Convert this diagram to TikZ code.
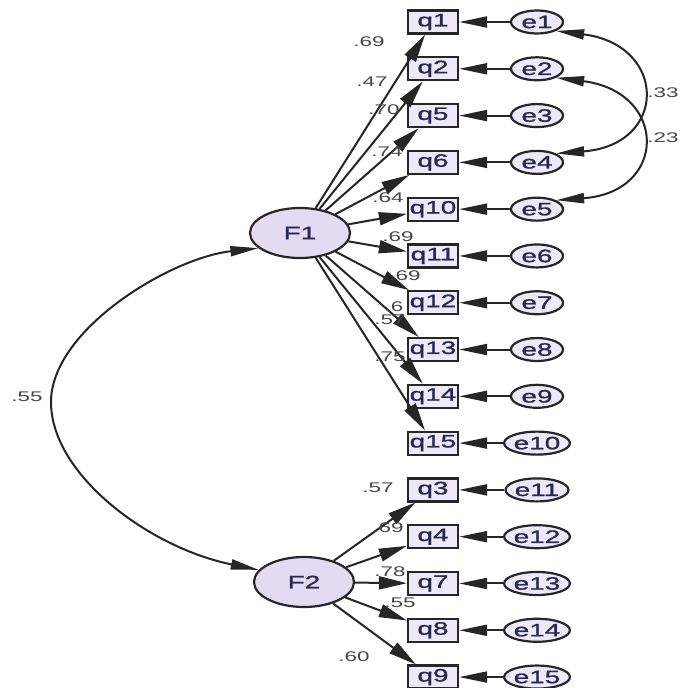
\documentclass[tikz,border=0pt]{standalone}
\usepackage{fontspec}
\setmainfont[FakeStretch=1.6]{Liberation Sans}
\newfontfamily\nodefont[FakeStretch=1.55,FakeBold=1.2]{Liberation Sans}
\usetikzlibrary{arrows.meta,shapes.geometric}
\definecolor{txt}{RGB}{40,40,80}
\definecolor{lblc}{RGB}{70,70,70}
\definecolor{boxfill}{RGB}{238,233,248}
\definecolor{latfill}{RGB}{226,219,241}
\begin{document}
\begin{tikzpicture}[x=1pt,y=-1pt,
  obs/.style={draw=black!85, line width=2.2pt, fill=boxfill, minimum width=50pt, minimum height=23pt, inner sep=0pt, text=txt, font=\nodefont\fontsize{18}{18}\selectfont},
  err/.style={ellipse, draw=black!85, line width=2.2pt, fill=boxfill, minimum width=52pt, minimum height=23pt, inner sep=0pt, text=txt, font=\nodefont\fontsize{18}{18}\selectfont},
  lat/.style={ellipse, draw=black!85, line width=2.2pt, fill=latfill, minimum width=100pt, minimum height=50pt, inner sep=0pt, text=txt, font=\nodefont\fontsize{18}{18}\selectfont},
  load/.style={-{Triangle[length=28pt,width=13pt]}, line width=2pt, draw=black!85},
  eload/.style={-{Triangle[length=28pt,width=11pt]}, line width=2pt, draw=black!85},
  cov/.style={{Triangle[length=28pt,width=10pt]}-{Triangle[length=28pt,width=10pt]}, line width=2pt, draw=black!85},
  lbl/.style={text=lblc, font=\fontsize{14}{14}\selectfont, inner sep=0pt}]
\useasboundingbox (0,0) rectangle (682,688);
\fill[white] (0,0) rectangle (682,688);

% latent factors
\node[lat] (F1) at (300,233) {F1};
\node[lat] (F2) at (304,582) {F2};

% observed and error variables
\foreach \n [count=\i from 0] in {1,2,5,6,10,11,12,13,14,15,3,4,7,8,9} {
  \pgfmathtruncatemacro\ee{\i+1}
  \node[obs] (q\n) at (433,{22+46.79*\i}) {q\n};
  \node[err] (e\ee) at (537,{22+46.79*\i}) {e\ee};
  \draw[eload] (e\ee) -- (q\n);
}

% loadings
\foreach \n in {1,2,5,6,10,11,12,13,14,15} \draw[load] (F1) -- (q\n);
\foreach \n in {3,4,7,8,9} \draw[load] (F2) -- (q\n);

% factor covariance
\coordinate (L) at (51,402);
\draw[cov] (F1.200) .. controls (170,258) and (51,330) .. (L) .. controls (51,475) and (150,548) .. (F2.165);

% error covariances
\draw[cov] (e1.-25) .. controls (668,45) and (668,145) .. (e4.25);
\draw[cov] (e2.-25) .. controls (668,92) and (668,192) .. (e5.25);

% labels
\node[lbl] (l1) at (369,42) {.69};
\node[lbl] (l2) at (372,82) {.47};
\node[lbl] (l3) at (384,110) {.70};
\node[lbl] (l4) at (387,152) {.74};
\node[lbl] (l5) at (388,198) {.64};
\node[lbl] (l6) at (398,237) {.69};
\node[lbl] (l7) at (405,276) {.69};
\node[lbl] (l8) at (394,307) {.6};
\node[lbl] (l9) at (390,320) {.57};
\node[lbl] (l10) at (390,357) {.75};
\node[lbl] (m1) at (378,488) {.57};
\node[lbl] (m2) at (388,528) {.69};
\node[lbl] (m3) at (390,572) {.78};
\node[lbl] (m4) at (400,603) {.55};
\node[lbl] (m5) at (354,657) {.60};
\node[lbl] (c1) at (27,397) {.55};
\node[lbl] (c2) at (663,93) {.33};
\node[lbl] (c3) at (663,138) {.23};
\end{tikzpicture}
\end{document}
